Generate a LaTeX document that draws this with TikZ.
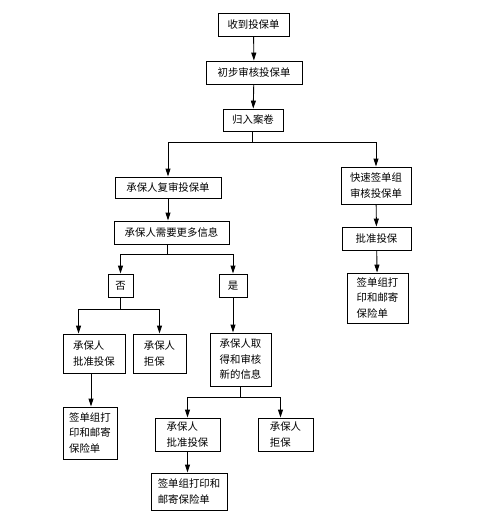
\documentclass[tikz,border=0pt]{standalone}
\usepackage{fontspec}
\newfontfamily\cjk{Noto Sans CJK SC}
\usetikzlibrary{arrows.meta}

\begin{document}
\begin{tikzpicture}[x=1pt,y=-1pt,
    box/.style={draw,line width=0.9pt,inner sep=0pt,align=left,font=\cjk\fontsize{10.4}{15.5}\selectfont},
    arr/.style={-{Triangle[length=8pt,width=5pt]},line width=0.9pt},
    ln/.style={line width=0.9pt}]
        \useasboundingbox (0,0) rectangle (478,520);
        % main line
        \node[box,minimum width=71pt,minimum height=23pt] (shoudao) at (253.5,24.5) {收到投保单};
        \node[box,minimum width=96pt,minimum height=23pt] (chubu) at (254,72.5) {初步审核投保单};
        \node[box,minimum width=60pt,minimum height=22pt] (guiru) at (253,120) {归入案卷};
        \node[box,minimum width=106pt,minimum height=21pt] (fushen) at (168,187.5) {承保人复审投保单};
        \node[box,minimum width=115pt,minimum height=23pt] (xuyao) at (171.5,232.5) {承保人需要更多信息};
        \node[box,minimum width=25pt,minimum height=23pt] (fou) at (120.5,285.5) {否};
        \node[box,minimum width=28pt,minimum height=23pt] (shi) at (233,285.5) {是};
        % fast track
        \node[box,minimum width=70pt,minimum height=37pt] (kuaisu) at (376,185.5) {快速签单组\\审核投保单};
        \node[box,minimum width=69pt,minimum height=23pt] (pizhunR) at (376.5,238.5) {批准投保};
        \node[box,minimum width=61pt,minimum height=50pt] (qiandanR) at (377.5,298) {签单组打\\印和邮寄\\保险单};
        % no more info
        \node[box,minimum width=62pt,minimum height=39pt] (pizhunL) at (94,353.5) {承保人\\批准投保};
        \node[box,minimum width=53pt,minimum height=39pt] (jubaoL) at (159.5,353.5) {承保人\\拒保};
        \node[box,minimum width=54pt,minimum height=52pt] (qiandanL) at (90,433) {签单组打\\印和邮寄\\保险单};
        % more info
        \node[box,minimum width=61pt,minimum height=53pt] (qude) at (240.5,359.5) {承保人取\\得和审核\\新的信息};
        \node[box,minimum width=65pt,minimum height=33pt] (pizhunM) at (187.5,434.5) {承保人\\批准投保};
        \node[box,minimum width=55pt,minimum height=33pt] (jubaoM) at (285.5,434.5) {承保人\\拒保};
        \node[box,minimum width=76pt,minimum height=37pt] (qiandanM) at (189,491.5) {签单组打印和\\邮寄保险单};

        \coordinate (b1) at (252,142.5);
        \coordinate (b2) at (167,254);
        \coordinate (b3) at (120,309);
        \coordinate (b4) at (240,397);

        \draw[arr] (shoudao) -- (chubu);
        \draw[arr] (chubu) -- (guiru);
        \draw[ln] (guiru.south -| b1) -- (b1);
        \draw[arr] (b1) -| (fushen.north);
        \draw[arr] (b1) -| (kuaisu.north);
        \draw[arr] (fushen.south) -- (fushen.south |- xuyao.north);
        \draw[ln] (xuyao.south -| b2) -- (b2);
        \draw[arr] (b2) -| (fou.north);
        \draw[arr] (b2) -| (shi.north);
        \draw[ln] (fou.south -| b3) -- (b3);
        \draw[arr] (b3) -| ([xshift=16pt]pizhunL.north west);
        \draw[arr] (b3) -| (jubaoL.north);
        \draw[arr] ([xshift=1pt]qiandanL.north |- pizhunL.south) -- ([xshift=1pt]qiandanL.north);
        \draw[arr] (shi.south) -- (shi.south |- qude.north);
        \draw[ln] (qude.south -| b4) -- (b4);
        \draw[arr] (b4) -| (pizhunM.north);
        \draw[arr] (b4) -| ([xshift=-5pt]jubaoM.north);
        \draw[arr] (pizhunM.south) -- (pizhunM.south |- qiandanM.north);
        \draw[arr] (kuaisu) -- (pizhunR);
        \draw[arr] (pizhunR) -- (qiandanR);
      \end{tikzpicture}
\end{document}
